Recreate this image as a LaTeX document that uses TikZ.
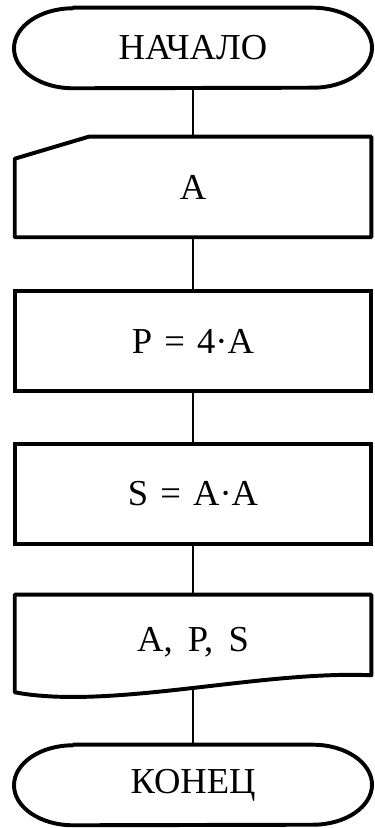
\documentclass[tikz,border=0pt]{standalone}
\usepackage{fontspec}
\setmainfont{Liberation Serif}
\usetikzlibrary{calc}

\begin{document}
\begin{tikzpicture}[
    frame/.style={line width=2.8pt, line join=round},
    link/.style={line width=1.4pt},
    block/.style={font=\fontsize{26}{30}\selectfont, inner sep=0pt, minimum width=8.9cm},
    box/.style={block, draw, line width=2.8pt, minimum height=2.5cm}
  ]
  \useasboundingbox (0,0) rectangle (9.35,20.7);

  % Start (terminator)
  \node[block, minimum height=2cm] (start) at (4.825,19.5) {НАЧАЛО};
  \draw[frame] ($(start.north)+(-3,0)$) -- ($(start.north)+(3,0)$)
    arc[start angle=90, end angle=-90, x radius=1.475, y radius=1]
    -- ($(start.south)+(-3,0)$)
    arc[start angle=270, end angle=90, x radius=1.475, y radius=1] -- cycle;

  % Input A (manual input)
  \node[block, minimum height=2.5cm] (input) at (4.825,16.025) {A};
  \draw[frame] ($(input.north west)+(0,-0.55)$) -- ($(input.north west)+(1.85,0)$)
    -- (input.north east) -- (input.south east) -- (input.south west) -- cycle;

  % Process boxes
  \node[box] (perim) at (4.825,12.175) {P\,\,=\,\,4·A};
  \node[box] (area) at (4.825,8.35) {S\,\,=\,\,A·A};

  % Output A, P, S (document)
  \node[block, minimum height=2.375cm] (output) at (4.825,4.6375) {A,\, P,\, S};
  \draw[frame] ($(output.south west)+(0,-0.05)$) -- (output.north west)
    -- (output.north east) -- ($(output.south east)+(0,0.375)$)
    .. controls ($(output.south east)+(-2.775,0.5)$) and ($(output.south west)+(2.375,-0.5)$)
    .. ($(output.south west)+(0,-0.05)$) -- cycle;

  % End (terminator)
  \node[block, minimum height=2cm] (stop) at (4.825,1.075) {КОНЕЦ};
  \draw[frame] ($(stop.north)+(-3,0)$) -- ($(stop.north)+(3,0)$)
    arc[start angle=90, end angle=-90, x radius=1.475, y radius=1]
    -- ($(stop.south)+(-3,0)$)
    arc[start angle=270, end angle=90, x radius=1.475, y radius=1] -- cycle;

  % Connectors
  \draw[link] (start) -- (input);
  \draw[link] (input) -- (perim);
  \draw[link] (perim) -- (area);
  \draw[link] (area) -- (output);
  \draw[link] (output) -- (stop);
\end{tikzpicture}
\end{document}
